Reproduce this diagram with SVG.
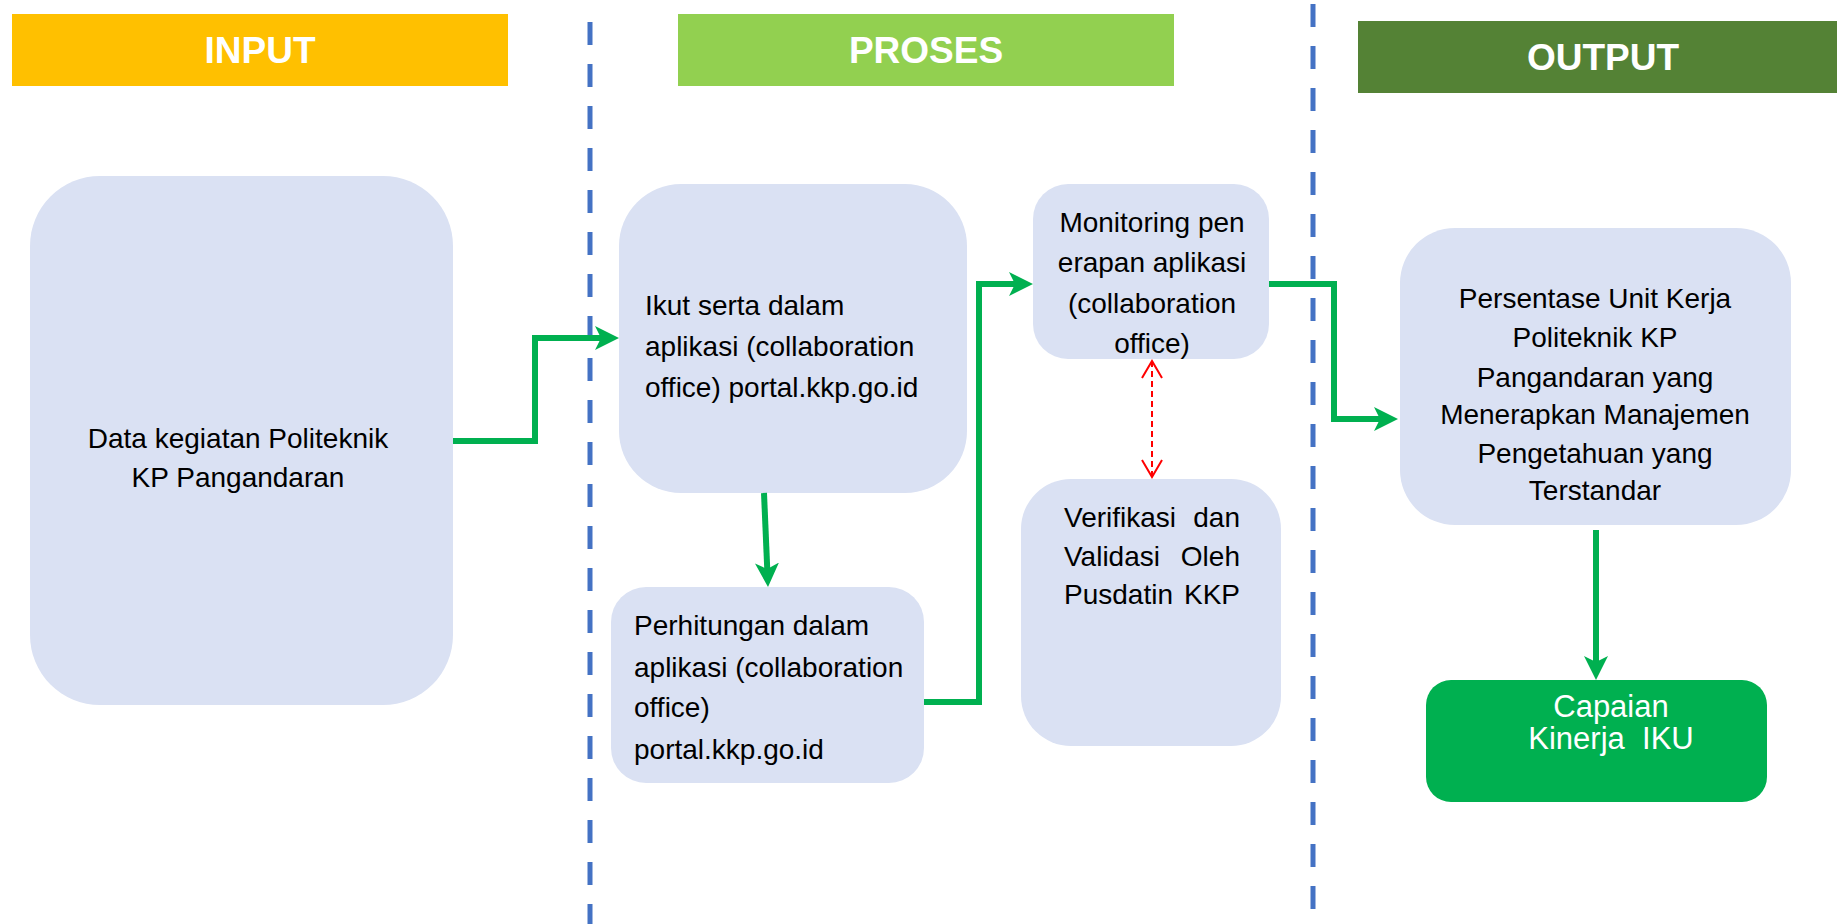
<svg xmlns="http://www.w3.org/2000/svg" width="1837" height="924" viewBox="0 0 1837 924">
<style>
.box{fill:#DAE1F3;}
.t{font-family:"Liberation Sans",Arial,sans-serif;font-size:28px;fill:#000;}
.c{text-anchor:middle;}
.h{font-family:"Liberation Sans",Arial,sans-serif;font-size:37px;font-weight:bold;fill:#fff;text-anchor:middle;}
.div{stroke:#4472C4;stroke-width:5;stroke-dasharray:23 19;fill:none;}
.g{stroke:#00B050;stroke-width:6;fill:none;}
.r{stroke:#FF0000;stroke-width:2;stroke-dasharray:6 4;fill:none;}
.w{fill:#fff;font-size:31px;}
</style>
<defs>
<marker id="ga" viewBox="0 0 24 24" markerWidth="24" markerHeight="24" refX="12" refY="12" orient="auto" markerUnits="userSpaceOnUse">
<path d="M0,0 L24,12 L0,24 L6,12 Z" fill="#00B050"/>
</marker>
<marker id="ra" viewBox="0 0 20 22" markerWidth="20" markerHeight="22" refX="18" refY="11" orient="auto-start-reverse" markerUnits="userSpaceOnUse">
<path d="M1,1 L18,11 L1,21" fill="none" stroke="#FF0000" stroke-width="2"/>
</marker>
</defs>

<g id="header-input">
<rect x="12" y="14" width="496" height="72" fill="#FFC000"/>
<text class="h" x="260" y="63">INPUT</text>
</g>
<g id="header-proses">
<rect x="678" y="14" width="496" height="72" fill="#92D050"/>
<text class="h" x="926" y="63">PROSES</text>
</g>
<g id="header-output">
<rect x="1358" y="21" width="479" height="72" fill="#548235"/>
<text class="h" x="1603" y="70">OUTPUT</text>
</g>

<g id="dividers">
<line class="div" x1="590" y1="22" x2="590" y2="924"/>
<line class="div" x1="1313" y1="4" x2="1313" y2="910"/>
</g>

<g id="node-input">
<rect class="box" x="30" y="176" width="423" height="529" rx="70" ry="70"/>
<text class="t c" x="238" y="448">Data kegiatan Politeknik</text>
<text class="t c" x="238" y="487">KP Pangandaran</text>
</g>

<g id="node-ikut">
<rect class="box" x="619" y="184" width="348" height="309" rx="62" ry="62"/>
<text class="t" x="645" y="315">Ikut serta dalam</text>
<text class="t" x="645" y="356">aplikasi (collaboration</text>
<text class="t" x="645" y="397">office) portal.kkp.go.id</text>
</g>

<g id="node-perhitungan">
<rect class="box" x="611" y="587" width="313" height="196" rx="35" ry="35"/>
<text class="t" x="634" y="635">Perhitungan dalam</text>
<text class="t" x="634" y="677">aplikasi (collaboration</text>
<text class="t" x="634" y="717">office)</text>
<text class="t" x="634" y="759">portal.kkp.go.id</text>
</g>

<g id="node-monitoring">
<rect class="box" x="1033" y="184" width="236" height="175" rx="35" ry="35"/>
<text class="t c" x="1152" y="232">Monitoring pen</text>
<text class="t c" x="1152" y="272">erapan aplikasi</text>
<text class="t c" x="1152" y="313">(collaboration</text>
<text class="t c" x="1152" y="353">office)</text>
</g>

<g id="node-verifikasi">
<rect class="box" x="1021" y="479" width="260" height="267" rx="50" ry="50"/>
<text class="t" y="527"><tspan x="1064">Verifikasi</tspan> <tspan x="1240" text-anchor="end">dan</tspan></text>
<text class="t" y="566"><tspan x="1064">Validasi</tspan> <tspan x="1240" text-anchor="end">Oleh</tspan></text>
<text class="t" y="604"><tspan x="1064">Pusdatin</tspan> <tspan x="1240" text-anchor="end">KKP</tspan></text>
</g>

<g id="node-persentase">
<rect class="box" x="1400" y="228" width="391" height="297" rx="55" ry="55"/>
<text class="t c" x="1595" y="308">Persentase Unit Kerja</text>
<text class="t c" x="1595" y="347">Politeknik KP</text>
<text class="t c" x="1595" y="387">Pangandaran yang</text>
<text class="t c" x="1595" y="424">Menerapkan Manajemen</text>
<text class="t c" x="1595" y="463">Pengetahuan yang</text>
<text class="t c" x="1595" y="500">Terstandar</text>
</g>

<g id="node-capaian">
<rect x="1426" y="680" width="341" height="122" rx="25" ry="25" fill="#00B050"/>
<text class="t c w" x="1611" y="717">Capaian</text>
<text class="t c w" x="1611" y="749" xml:space="preserve">Kinerja  IKU</text>
</g>

<g id="connectors">
<path class="g" d="M453,441 H535 V338 H607" marker-end="url(#ga)"/>
<path class="g" d="M764,493 L767.5,575" marker-end="url(#ga)"/>
<path class="g" d="M924,702 H979 V284 H1021" marker-end="url(#ga)"/>
<path class="g" d="M1269,284 H1334 V419 H1386" marker-end="url(#ga)"/>
<path class="g" d="M1596,530 V668" marker-end="url(#ga)"/>
<path class="r" d="M1152,361 V477" marker-start="url(#ra)" marker-end="url(#ra)"/>
</g>
</svg>
